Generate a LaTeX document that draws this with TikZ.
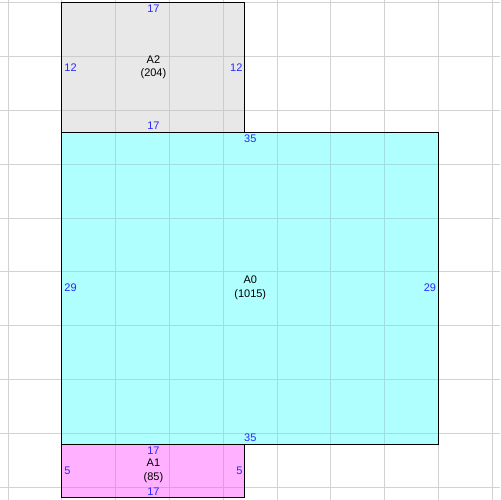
\documentclass[tikz,border=0pt]{standalone}
\usepackage{fontspec}
\setmainfont{Liberation Sans}
\definecolor{gridgray}{HTML}{D2D2D2}
\definecolor{cyanfill}{HTML}{B0FFFF}
\definecolor{cyangrid}{HTML}{9EDEDE}
\definecolor{pinkfill}{HTML}{FFB0FF}
\definecolor{pinkgrid}{HTML}{DE9EDE}
\definecolor{grayfill}{HTML}{E8E8E8}
\definecolor{graygrid}{HTML}{CCCCCC}
\definecolor{dimblue}{HTML}{2828FF}
\begin{document}
\begin{tikzpicture}[x=10.76bp,y=10.76bp,
  gridline/.style={line width=1bp},
  area/.style={rectangle,draw=none,inner sep=0,outer sep=0},
  border/.style={draw=black,line width=1bp},
  dim/.style={text=dimblue,inner sep=2.3bp,font=\fontsize{11bp}{12bp}\selectfont},
  areaname/.style={align=center,text=black,inner sep=0,font=\fontsize{11bp}{13.5bp}\selectfont}]
\useasboundingbox (-5.76,-0.2) rectangle (40.71,46.27);
\fill[white] (-5.76,-0.2) rectangle (40.71,46.27);
% background grid
\foreach \x in {-5,0,...,40} \draw[gridline,gridgray] (\x,-0.2) -- (\x,46.27);
\foreach \y in {1,6,...,46} \draw[gridline,gridgray] (-5.76,\y) -- (40.71,\y);
% areas
\node[area,fill=grayfill,minimum width=182.92bp,minimum height=129.12bp] (A2) at (8.5,40) {};
\node[area,fill=cyanfill,minimum width=376.6bp,minimum height=312.04bp] (A0) at (17.5,19.5) {};
\node[area,fill=pinkfill,minimum width=182.92bp,minimum height=53.8bp] (A1) at (8.5,2.5) {};
% tinted grid inside areas
\begin{scope}
\clip (A2.south west) rectangle (A2.north east);
\foreach \x in {-5,0,...,40} \draw[gridline,graygrid] (\x,-0.2) -- (\x,46.27);
\foreach \y in {1,6,...,46} \draw[gridline,graygrid] (-5.76,\y) -- (40.71,\y);
\end{scope}
\begin{scope}
\clip (A0.south west) rectangle (A0.north east);
\foreach \x in {-5,0,...,40} \draw[gridline,cyangrid] (\x,-0.2) -- (\x,46.27);
\foreach \y in {1,6,...,46} \draw[gridline,cyangrid] (-5.76,\y) -- (40.71,\y);
\end{scope}
\begin{scope}
\clip (A1.south west) rectangle (A1.north east);
\foreach \x in {-5,0,...,40} \draw[gridline,pinkgrid] (\x,-0.2) -- (\x,46.27);
\foreach \y in {1,6,...,46} \draw[gridline,pinkgrid] (-5.76,\y) -- (40.71,\y);
\end{scope}
% borders
\draw[border] (A2.south west) rectangle (A2.north east);
\draw[border] (A1.south west) rectangle (A1.north east);
\draw[border] (A0.south west) rectangle (A0.north east);
% labels A2
\node[dim,anchor=north] (A2t) at (A2.north) {17};
\node[dim,anchor=south] (A2b) at (A2.south) {17};
\node[dim,anchor=west] (A2l) at (A2.west) {12};
\node[dim,anchor=east] (A2r) at (A2.east) {12};
\node[areaname] (A2n) at (A2.center) {A2\\(204)};
% labels A0
\node[dim,anchor=north] (A0t) at (A0.north) {35};
\node[dim,anchor=south] (A0b) at (A0.south) {35};
\node[dim,anchor=west] (A0l) at (A0.west) {29};
\node[dim,anchor=east] (A0r) at (A0.east) {29};
\node[areaname] (A0n) at (A0.center) {A0\\(1015)};
% labels A1
\node[dim,anchor=north] (A1t) at (A1.north) {17};
\node[dim,anchor=south] (A1b) at (A1.south) {17};
\node[dim,anchor=west] (A1l) at (A1.west) {5};
\node[dim,anchor=east] (A1r) at (A1.east) {5};
\node[areaname] (A1n) at (A1.center) {A1\\(85)};
\end{tikzpicture}
\end{document}
